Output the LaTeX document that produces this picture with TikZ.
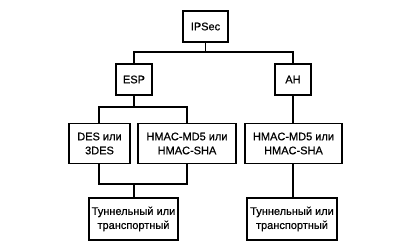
\documentclass[tikz,border=0pt]{standalone}
\usepackage{fontspec}
\setmainfont{Liberation Sans}[FakeBold=0.6]
\newfontfamily\lbl{Liberation Sans}[FakeBold=0.6]
\begin{document}
\begin{tikzpicture}[x=1pt,y=-1pt,
  blk/.style={draw,line width=1.6pt,inner sep=0pt,align=center,font=\lbl\fontsize{11}{14}\selectfont},
  conn/.style={line width=1.6pt}]
\useasboundingbox (0,0) rectangle (400,249);
\node[blk,minimum width=45pt,minimum height=31pt] (ipsec) at (205.5,26.5) {IPSec};
\node[blk,minimum width=36pt,minimum height=31pt] (esp) at (134,79.5) {ESP};
\node[blk,minimum width=36pt,minimum height=31pt] (ah) at (293,79.5) {AH};
\node[blk,minimum width=61pt,minimum height=40pt] (des) at (99.5,143.5) {DES или\\3DES};
\node[blk,minimum width=98pt,minimum height=40pt] (hm1) at (187,143.5) {HMAC-MD5 или\\HMAC-SHA};
\node[blk,minimum width=97pt,minimum height=40pt] (hm2) at (293.5,143.5) {HMAC-MD5 или\\HMAC-SHA};
\node[blk,minimum width=89pt,minimum height=42pt] (t1) at (133.5,219) {Туннельный или\\транспортный};
\node[blk,minimum width=90pt,minimum height=42pt] (t2) at (292,219) {Туннельный или\\транспортный};
\coordinate (j1) at (205.5,52);
\coordinate (j2) at (134,107);
\coordinate (j3) at (134,184);
\draw[conn] (ipsec.south) -- (j1);
\draw[conn] (esp.north) |- (j1) -| (ah.north);
\draw[conn] (esp.south) -- (j2);
\draw[conn] (des.north -| 99,0) |- (j2) -| (hm1.north);
\draw[conn] (ah.south) -- (hm2.north -| ah.south);
\draw[conn] (des.south -| 99,0) |- (j3) -| (hm1.south);
\draw[conn] (j3) -- (t1.north -| j3);
\draw[conn] (hm2.south -| ah.south) -- (t2.north -| ah.south);
\end{tikzpicture}
\end{document}
